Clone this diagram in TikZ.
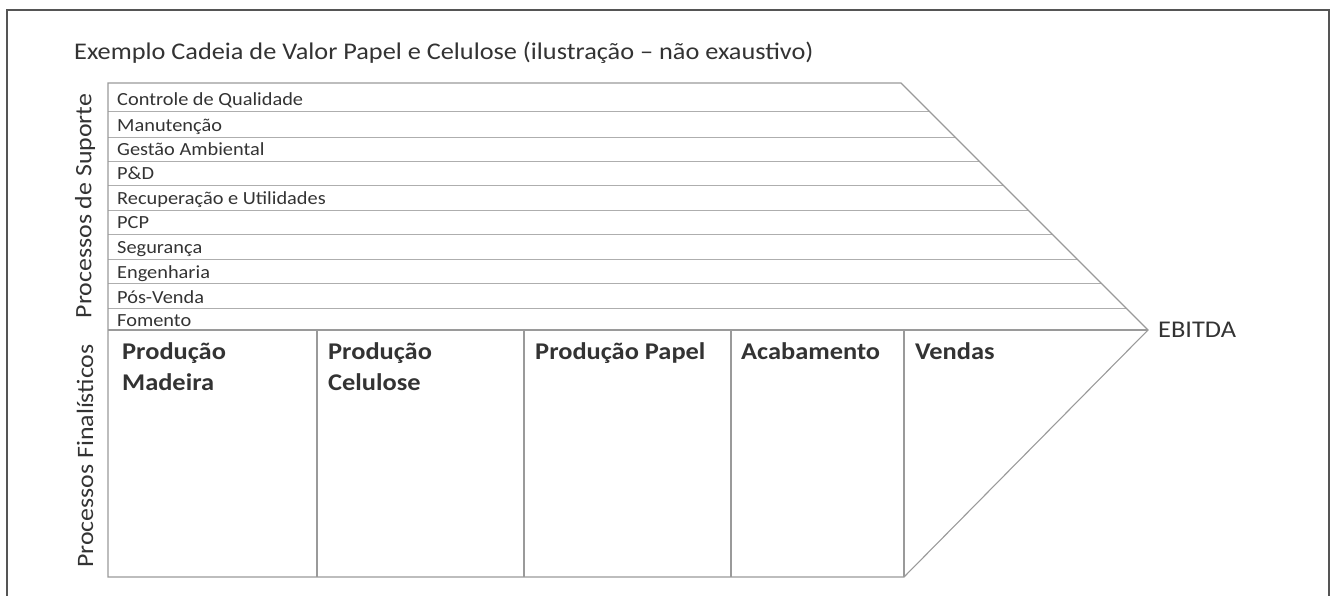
\documentclass[tikz,border=0pt]{standalone}
\usepackage{fontspec}
\setmainfont{Carlito}[FakeStretch=1.1]
\begin{document}
\begin{tikzpicture}[x=1pt,y=-1pt,
  txt/.style={text=textcol, inner sep=0pt},
  rowlbl/.style={txt, anchor=base west, font=\fontsize{18.5}{22}\selectfont},
  collbl/.style={txt, anchor=base west, align=left, font=\fontsize{24}{31}\selectfont\bfseries},
  sidelbl/.style={txt, rotate=90, font=\fontsize{23.5}{26}\selectfont},
  outline/.style={draw=linecol, line width=1.1pt},
  rowline/.style={draw=linecol!80, line width=0.9pt}]
\definecolor{textcol}{HTML}{333333}
\definecolor{linecol}{HTML}{9A9A9A}
\definecolor{framecol}{HTML}{555555}
\useasboundingbox (0,0) rectangle (1331,596);
% outer frame
\draw[framecol, line width=1.2pt] (7,610) -- (7,10) -- (1329,10) -- (1329,610);
% title
\node[txt, anchor=base west, font=\fontsize{23.9}{28}\selectfont] (title) at (74,60)
  {Exemplo Cadeia de Valor Papel e Celulose (ilustração – não exaustivo)};
% support rows
\foreach \y in {111,137,161,185,210,234,259,283,308}
  \draw[rowline] (108,\y) -- ({901+\y-83},\y);
\draw[outline] (108,330) -- (1148,330);
% main chevron outline
\coordinate (tl) at (108,83);
\coordinate (tr) at (901,83);
\coordinate (tip) at (1148,330);
\coordinate (br) at (904,577);
\coordinate (bl) at (108,577);
\draw[outline] (tl) -- (tr) -- (tip) -- (br) -- (bl) -- cycle;
% column dividers
\foreach \x in {317,524,731,904}
  \draw[outline] (\x,330) -- (\x,577);
% row labels
\node[rowlbl] (r1) at (117,106) {Controle de Qualidade};
\node[rowlbl] (r2) at (117,132) {Manutenção};
\node[rowlbl] (r3) at (117,156) {Gestão Ambiental};
\node[rowlbl] (r4) at (117,180) {P\&D};
\node[rowlbl] (r5) at (117,205) {Recuperação e Utilidades};
\node[rowlbl] (r6) at (117,229) {PCP};
\node[rowlbl] (r7) at (117,254) {Segurança};
\node[rowlbl] (r8) at (117,278) {Engenharia};
\node[rowlbl] (r9) at (117,303) {Pós-Venda};
\node[rowlbl] (r10) at (117,326) {Fomento};
% column labels (two-line nodes: base = last line's baseline)
\node[collbl] (c1) at (122,390) {Produção\\Madeira};
\node[collbl] (c2) at (328,390) {Produção\\Celulose};
\node[collbl] (c3) at (535,359) {Produção Papel};
\node[collbl] (c4) at (741,359) {Acabamento};
\node[collbl] (c5) at (915,359) {Vendas};
% side labels
\node[sidelbl] (sup) at (85,206) {Processos de Suporte};
\node[sidelbl] (fin) at (85,456) {Processos Finalísticos};
% EBITDA
\node[txt, anchor=base west, font=\fontsize{24}{28}\selectfont] (ebitda) at (1158,337) {EBITDA};
\end{tikzpicture}
\end{document}
